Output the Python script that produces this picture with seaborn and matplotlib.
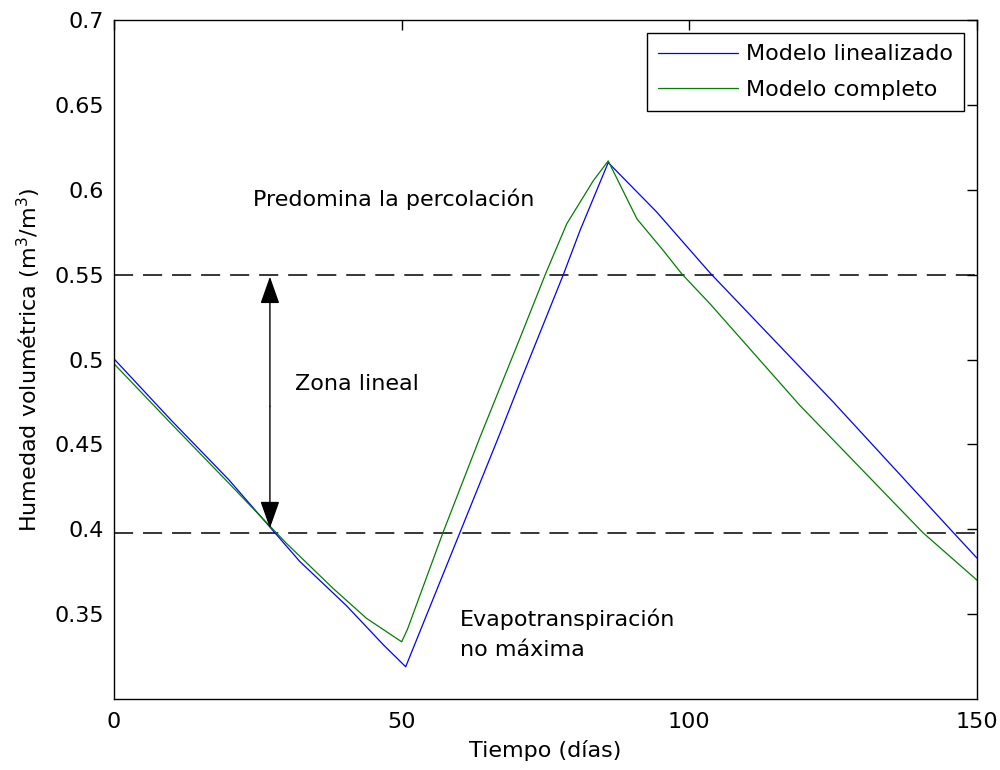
import matplotlib
matplotlib.use("Agg")
import matplotlib.pyplot as plt
import seaborn as sns
import pandas as pd

# ---- data ----
lin_days = [0, 10, 20, 32.3, 40.4, 46.8, 50.7, 66.8, 71.1, 78.1, 81.0, 85.9,
            94.3, 103.6, 125.0, 145.9, 150]
lin_theta = [0.5004, 0.464, 0.429, 0.381, 0.355, 0.332, 0.319, 0.454, 0.491,
             0.550, 0.576, 0.616, 0.587, 0.551, 0.475, 0.398, 0.383]

full_days = [0, 10, 20, 30, 38.1, 43.9, 50.0, 51.0, 57.2, 63.6, 70.6, 75.0,
             78.7, 83.3, 85.9, 90.9, 95.5, 98.7, 103.6, 119.2, 140.6, 150]
full_theta = [0.4975, 0.462, 0.427, 0.3916, 0.3651, 0.3475, 0.3337, 0.341,
              0.3982, 0.4541, 0.5129, 0.5504, 0.580, 0.6053, 0.617, 0.5828,
              0.5641, 0.5504, 0.5328, 0.473, 0.398, 0.370]

series_names = ["Modelo linealizado", "Modelo completo"]
series_colors = ["#0000ff", "#008000"]

upper_limit = 0.55
lower_limit = 0.398
arrow_day = 27.1
arrow_mid = 0.4724
arrow_top = 0.5488
arrow_bottom = 0.4006

xticks = [0, 50, 100, 150]
yticks = [0.35, 0.4, 0.45, 0.5, 0.55, 0.6, 0.65, 0.7]
ytick_labels = ["0.35", "0.4", "0.45", "0.5", "0.55", "0.6", "0.65", "0.7"]

df = pd.concat([
    pd.DataFrame({"t": lin_days, "theta": lin_theta, "serie": series_names[0]}),
    pd.DataFrame({"t": full_days, "theta": full_theta, "serie": series_names[1]}),
], ignore_index=True)

sns.set_style("white")
plt.rcParams["font.family"] = ["DejaVu Sans"]
plt.rcParams["font.size"] = 16
plt.rcParams["text.color"] = "black"
plt.rcParams["axes.labelcolor"] = "black"
plt.rcParams["xtick.color"] = "black"
plt.rcParams["ytick.color"] = "black"

fig = plt.figure(figsize=(10, 7.7), dpi=100)
ax = fig.add_axes([0.114, 0.0922, 0.863, 0.8818])

sns.lineplot(data=df, x="t", y="theta", hue="serie", hue_order=series_names,
             palette=series_colors, estimator=None, sort=False, linewidth=0.9,
             ax=ax)

for yv in (upper_limit, lower_limit):
    ax.axhline(yv, color="black", linewidth=1.1, linestyle=(0, (12.5, 6.5)),
               zorder=1)

for tip in (arrow_top, arrow_bottom):
    ax.annotate("", xy=(arrow_day, tip), xytext=(arrow_day, arrow_mid),
                arrowprops=dict(arrowstyle="-|>,head_length=0.85,head_width=0.3",
                                color="black", lw=1.0, shrinkA=0, shrinkB=0,
                                mutation_scale=20))

ax.text(24.2, 0.5947, "Predomina la percolación", fontsize=16,
        ha="left", va="center", color="black")
ax.text(31.5, 0.4857, "Zona lineal", fontsize=16, ha="left", va="center",
        color="black")
ax.text(60.1, 0.3382, "Evapotranspiración\nno máxima", fontsize=16,
        ha="left", va="center", linespacing=1.65, color="black")

ax.set_xlim(0, 150)
ax.set_ylim(0.3, 0.7)
ax.set_xticks(xticks)
ax.set_xticklabels([str(v) for v in xticks])
ax.set_yticks(yticks)
ax.set_yticklabels(ytick_labels)
ax.tick_params(direction="in", length=7, width=1, top=True, right=True,
               labelsize=16, colors="black")
ax.tick_params(axis="x", pad=9)
ax.tick_params(axis="y", pad=7)
for s in ax.spines.values():
    s.set_visible(True)
    s.set_color("black")
    s.set_linewidth(1.0)

ax.set_xlabel("Tiempo (días)", fontsize=16, labelpad=6)
ax.set_ylabel("Humedad volumétrica (m$^3$/m$^3$)", fontsize=16, labelpad=8)

handles, labels = ax.get_legend_handles_labels()
leg = ax.legend(handles, labels, loc="upper right", fontsize=16,
                frameon=True, fancybox=False, framealpha=1,
                edgecolor="black", borderaxespad=0.6, handlelength=3.6,
                handletextpad=0.35, labelspacing=0.7, borderpad=0.5)
leg.get_frame().set_linewidth(1.0)
for t in leg.get_texts():
    t.set_color("black")

fig.savefig("out.png", dpi=100)
